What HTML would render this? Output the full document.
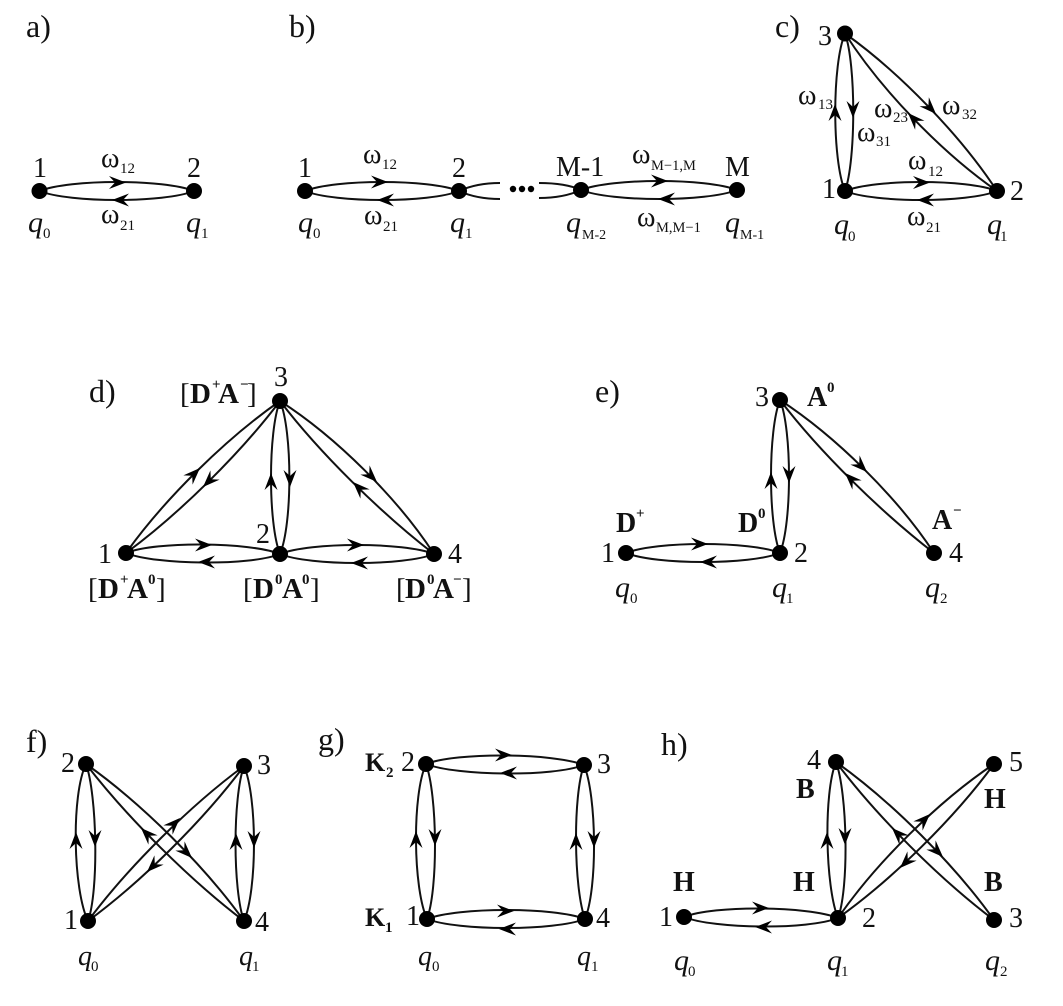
<!DOCTYPE html>
<html><head><meta charset="utf-8"><style>
html,body{margin:0;padding:0;background:#fff}
svg{display:block}
text{font-family:"Liberation Serif",serif;fill:#111}
.l{font-size:32px}.n{font-size:28px}.w{font-size:28px}.s{font-size:15px}
.q{font-size:30px;font-style:italic}.q2{font-size:28px;font-style:italic}
.b{font-size:28px;font-weight:bold}.t{font-size:15px;font-weight:bold}
.br{font-size:29px}.bb{font-size:29px;font-weight:bold}
path.c{fill:none;stroke:#111;stroke-width:2}
circle{fill:#000}
</style></head><body>
<svg width="1063" height="1006" viewBox="0 0 1063 1006" xmlns="http://www.w3.org/2000/svg">
<rect width="1063" height="1006" fill="#fff"/>
<defs><path id="a" d="M0 0L-17-6.5L-11 0L-17 6.5Z" fill="#000"/></defs>

<!-- a -->
<path class="c" d="M39.5 191C70 179 164 179 194 191M39.5 191C70 203 164 203 194 191"/>
<circle cx="39.5" cy="191" r="8"/><circle cx="194" cy="191" r="8"/>
<use href="#a" transform="translate(126,182.5)"/><use href="#a" transform="translate(112,200) rotate(180)"/>
<text class="l" x="26" y="37">a)</text>
<text class="n" x="33" y="177">1</text><text class="n" x="187" y="177">2</text>
<text class="w" x="101" y="167">ω</text><text class="s" x="120" y="173">12</text>
<text class="w" x="101" y="223">ω</text><text class="s" x="120" y="230">21</text>
<text class="q" x="28" y="232">q</text><text class="s" x="43" y="238">0</text>
<text class="q" x="186" y="232">q</text><text class="s" x="201" y="238">1</text>

<!-- b -->
<path class="c" d="M305 191C335 179 429 179 459 191M305 191C335 203 429 203 459 191M459 191C470 186 485 183 500 183M459 191C470 196 485 199 500 199"/>
<path class="c" d="M581 190C612 178 706 178 737 190M581 190C612 202 706 202 737 190M581 190C570 185 555 183 539 183M581 190C570 195 555 198 539 198"/>
<circle cx="305" cy="191" r="8"/><circle cx="459" cy="191" r="8"/><circle cx="581" cy="190" r="8"/><circle cx="737" cy="190" r="8"/>
<circle cx="513" cy="189" r="3.2"/><circle cx="522" cy="189" r="3.2"/><circle cx="531" cy="189" r="3.2"/>
<use href="#a" transform="translate(388,182)"/><use href="#a" transform="translate(377,200) rotate(180)"/>
<use href="#a" transform="translate(668,181)"/><use href="#a" transform="translate(658,199) rotate(180)"/>
<text class="l" x="289" y="37">b)</text>
<text class="n" x="298" y="177">1</text><text class="n" x="452" y="177">2</text>
<text class="n" x="556" y="176">M-1</text><text class="n" x="725" y="176">M</text>
<text class="w" x="363" y="163">ω</text><text class="s" x="382" y="169">12</text>
<text class="w" x="364" y="224">ω</text><text class="s" x="383" y="231">21</text>
<text class="w" x="632" y="163">ω</text><text class="s" x="651" y="170" style="font-size:14.5px">M−1,M</text>
<text class="w" x="637" y="226">ω</text><text class="s" x="656" y="232" style="font-size:14.5px">M,M−1</text>
<text class="q" x="298" y="232">q</text><text class="s" x="313" y="238">0</text>
<text class="q" x="450" y="232">q</text><text class="s" x="465" y="238">1</text>
<text class="q" x="566" y="232">q</text><text class="s" x="582" y="239" style="font-size:14px">M-2</text>
<text class="q" x="725" y="232">q</text><text class="s" x="740" y="239" style="font-size:14px">M-1</text>

<!-- c -->
<path class="c" d="M845 191C875 179 967 179 997 191M845 191C875 203 967 203 997 191M845 33.5C832 64 832 160 845 191M845 33.5C856 64 856 160 845 191M845 33.5C899.6 72.4 960.4 135.2 997 191M845 33.5C881.3 90.1 942.1 152.9 997 191"/>
<circle cx="845" cy="33.5" r="8"/><circle cx="845" cy="191" r="8"/><circle cx="997" cy="191" r="8"/>
<use href="#a" transform="translate(930,182.5)"/><use href="#a" transform="translate(917,200) rotate(180)"/>
<use href="#a" transform="translate(835,104) rotate(-90)"/><use href="#a" transform="translate(853,118) rotate(90)"/>
<use href="#a" transform="translate(936,114) rotate(46)"/><use href="#a" transform="translate(908,113) rotate(226)"/>
<text class="l" x="775" y="37">c)</text>
<text class="n" x="818" y="45">3</text><text class="n" x="822" y="198">1</text><text class="n" x="1010" y="200">2</text>
<text class="w" x="798" y="104">ω</text><text class="s" x="818" y="109">13</text>
<text class="w" x="857" y="141">ω</text><text class="s" x="876" y="146">31</text>
<text class="w" x="874" y="117">ω</text><text class="s" x="893" y="122">23</text>
<text class="w" x="942" y="114">ω</text><text class="s" x="962" y="119">32</text>
<text class="w" x="908" y="169">ω</text><text class="s" x="928" y="176">12</text>
<text class="w" x="907" y="225">ω</text><text class="s" x="926" y="232">21</text>
<text class="q" x="834" y="234">q</text><text class="s" x="848" y="241">0</text>
<text class="q" x="987" y="234">q</text><text class="s" x="1000" y="241">1</text>

<!-- d -->
<path class="c" d="M126 553C156 541 250 542 280 554M126 553C156 565 250 566 280 554M280 554C310 542 404 542 434 554M280 554C310 566 404 566 434 554M126 553C164.2 499.4 225.8 438.6 280 401M126 553C178.9 514.1 240.5 453.3 280 401M280 554C268 524 268 431 280 401M280 554C292.5 524 292.5 431 280 401M280 401C336.1 437 397.7 498.2 434 554M280 401C319.9 453.3 381.5 513.5 434 554"/>
<circle cx="280" cy="401" r="8"/><circle cx="126" cy="553" r="8"/><circle cx="280" cy="554" r="8"/><circle cx="434" cy="554" r="8"/>
<use href="#a" transform="translate(212,545)"/><use href="#a" transform="translate(198,562) rotate(180)"/>
<use href="#a" transform="translate(364,545)"/><use href="#a" transform="translate(351,563) rotate(180)"/>
<use href="#a" transform="translate(200,468) rotate(-45)"/><use href="#a" transform="translate(203,487) rotate(135)"/>
<use href="#a" transform="translate(271,473) rotate(-90)"/><use href="#a" transform="translate(290,487) rotate(90)"/>
<use href="#a" transform="translate(377,482) rotate(45)"/><use href="#a" transform="translate(353,482) rotate(225)"/>
<text class="l" x="89" y="402">d)</text>
<text class="n" x="274" y="386">3</text><text class="n" x="98" y="563">1</text><text class="n" x="256" y="543">2</text><text class="n" x="448" y="563">4</text>
<text class="br" x="180" y="403">[</text><text class="bb" x="190" y="403">D</text><text class="t" x="212" y="389">+</text><text class="bb" x="218" y="403">A</text><text class="t" x="240" y="389">−</text><text class="br" x="247" y="403">]</text>
<text class="br" x="88" y="598">[</text><text class="bb" x="98" y="598">D</text><text class="t" x="120" y="584">+</text><text class="bb" x="127" y="598">A</text><text class="t" x="148" y="584">0</text><text class="br" x="156" y="598">]</text>
<text class="br" x="243" y="598">[</text><text class="bb" x="253" y="598">D</text><text class="t" x="275" y="584">0</text><text class="bb" x="282" y="598">A</text><text class="t" x="302" y="584">0</text><text class="br" x="310" y="598">]</text>
<text class="br" x="396" y="598">[</text><text class="bb" x="405" y="598">D</text><text class="t" x="427" y="584">0</text><text class="bb" x="433" y="598">A</text><text class="t" x="453" y="584">−</text><text class="br" x="462" y="598">]</text>

<!-- e -->
<path class="c" d="M626 553C656 541 750 541 780 553M626 553C656 565 750 565 780 553M780 553C768 523 768 430 780 400M780 553C792 523 792 430 780 400M780 400C835.7 436.3 897.3 497.1 934 553M780 400C819.9 452.3 881.5 512.5 934 553"/>
<circle cx="780" cy="400" r="8"/><circle cx="626" cy="553" r="8"/><circle cx="780" cy="553" r="8"/><circle cx="934" cy="553" r="8"/>
<use href="#a" transform="translate(708,544)"/><use href="#a" transform="translate(700,562) rotate(180)"/>
<use href="#a" transform="translate(771,472) rotate(-90)"/><use href="#a" transform="translate(789,483) rotate(90)"/>
<use href="#a" transform="translate(867,472) rotate(45)"/><use href="#a" transform="translate(845,473) rotate(225)"/>
<text class="l" x="595" y="402">e)</text>
<text class="n" x="755" y="406">3</text><text class="n" x="601" y="562">1</text><text class="n" x="794" y="562">2</text><text class="n" x="949" y="562">4</text>
<text class="b" x="807" y="406">A</text><text class="t" x="827" y="392">0</text>
<text class="b" x="616" y="532">D</text><text class="t" x="636" y="518">+</text>
<text class="b" x="738" y="532">D</text><text class="t" x="758" y="518">0</text>
<text class="b" x="932" y="529">A</text><text class="t" x="953" y="515">−</text>
<text class="q" x="615" y="597">q</text><text class="s" x="630" y="603">0</text>
<text class="q" x="772" y="597">q</text><text class="s" x="786" y="603">1</text>
<text class="q" x="925" y="597">q</text><text class="s" x="940" y="603">2</text>

<!-- f -->
<path class="c" d="M86 764C71 795 73 890 88 921M86 764C97 795 99 890 88 921M244 766C232.7 797 232.7 890 244 921M244 766C257.3 797 257.3 890 244 921M86 764C141.4 803.1 204.6 865.9 244 921M86 764C127.1 817.5 190.3 880.3 244 921M88 921C127.8 867.5 190.2 805.5 244 766M88 921C141.8 881.5 204.2 819.5 244 766"/>
<circle cx="86" cy="764" r="8"/><circle cx="88" cy="921" r="8"/><circle cx="244" cy="766" r="8"/><circle cx="244" cy="921" r="8"/>
<use href="#a" transform="translate(76,832) rotate(-90)"/><use href="#a" transform="translate(95,847) rotate(90)"/>
<use href="#a" transform="translate(236,833) rotate(-90)"/><use href="#a" transform="translate(254,848) rotate(90)"/>
<use href="#a" transform="translate(192,858) rotate(45)"/><use href="#a" transform="translate(141,828) rotate(225)"/>
<use href="#a" transform="translate(180,818) rotate(-45)"/><use href="#a" transform="translate(147,872) rotate(135)"/>
<text class="l" x="26" y="752">f)</text>
<text class="n" x="61" y="772">2</text><text class="n" x="257" y="774">3</text><text class="n" x="64" y="929">1</text><text class="n" x="255" y="931">4</text>
<text class="q2" x="78" y="965">q</text><text class="s" x="91" y="971">0</text>
<text class="q2" x="239" y="965">q</text><text class="s" x="252" y="971">1</text>

<!-- g -->
<path class="c" d="M426 764C457 752 553 753 584 765M426 764C457 776 553 777 584 765M427 919C458 907 554 907 585 919M427 919C458 931 554 931 585 919M426 764C412 795 413 888 427 919M426 764C437.3 795 438.3 888 427 919M584 765C572.7 796 573.7 888 585 919M584 765C596.7 796 597.7 888 585 919"/>
<circle cx="426" cy="764" r="8"/><circle cx="584" cy="765" r="8"/><circle cx="427" cy="919" r="8"/><circle cx="585" cy="919" r="8"/>
<use href="#a" transform="translate(512,755)"/><use href="#a" transform="translate(500,773) rotate(180)"/>
<use href="#a" transform="translate(514,911)"/><use href="#a" transform="translate(499,929) rotate(180)"/>
<use href="#a" transform="translate(416,831) rotate(-90)"/><use href="#a" transform="translate(435,846) rotate(90)"/>
<use href="#a" transform="translate(576,833) rotate(-90)"/><use href="#a" transform="translate(594,848) rotate(90)"/>
<text class="l" x="318" y="750">g)</text>
<text class="n" x="401" y="771">2</text><text class="n" x="597" y="773">3</text><text class="n" x="406" y="925">1</text><text class="n" x="596" y="927">4</text>
<text class="b" x="365" y="771" style="font-size:26px">K</text><text class="t" x="386" y="777">2</text>
<text class="b" x="365" y="926" style="font-size:26px">K</text><text class="t" x="385" y="932">1</text>
<text class="q2" x="418" y="965">q</text><text class="s" x="432" y="971">0</text>
<text class="q2" x="577" y="965">q</text><text class="s" x="591" y="971">1</text>

<!-- h -->
<path class="c" d="M684 917C714 905 808 906 838 918M684 917C714 929 808 930 838 918M838 918C825.3 887 823.3 793 836 762M838 918C849.3 887 847.3 793 836 762M836 762C891.4 801.4 954.6 864.6 994 920M836 762C876.7 816.1 939.9 879.3 994 920M838 918C876 862.9 938.4 801.3 994 764M838 918C892.3 879.4 954.7 817.8 994 764"/>
<circle cx="836" cy="762" r="8"/><circle cx="994" cy="764" r="8"/><circle cx="684" cy="917" r="8"/><circle cx="838" cy="918" r="8"/><circle cx="994" cy="920" r="8"/>
<use href="#a" transform="translate(769,908)"/><use href="#a" transform="translate(755,927) rotate(180)"/>
<use href="#a" transform="translate(827,832) rotate(-90)"/><use href="#a" transform="translate(845,845) rotate(90)"/>
<use href="#a" transform="translate(943,857) rotate(45)"/><use href="#a" transform="translate(892,828) rotate(225)"/>
<use href="#a" transform="translate(930,814) rotate(-45)"/><use href="#a" transform="translate(900,868) rotate(135)"/>
<text class="l" x="661" y="755">h)</text>
<text class="n" x="807" y="769">4</text><text class="n" x="1009" y="771">5</text><text class="n" x="659" y="926">1</text><text class="n" x="862" y="927">2</text><text class="n" x="1009" y="927">3</text>
<text class="b" x="796" y="798">B</text><text class="b" x="984" y="808">H</text><text class="b" x="673" y="891">H</text><text class="b" x="793" y="891">H</text><text class="b" x="984" y="891">B</text>
<text class="q" x="674" y="970">q</text><text class="s" x="688" y="976">0</text>
<text class="q" x="827" y="970">q</text><text class="s" x="841" y="976">1</text>
<text class="q" x="985" y="970">q</text><text class="s" x="1000" y="976">2</text>
</svg>
</body></html>
